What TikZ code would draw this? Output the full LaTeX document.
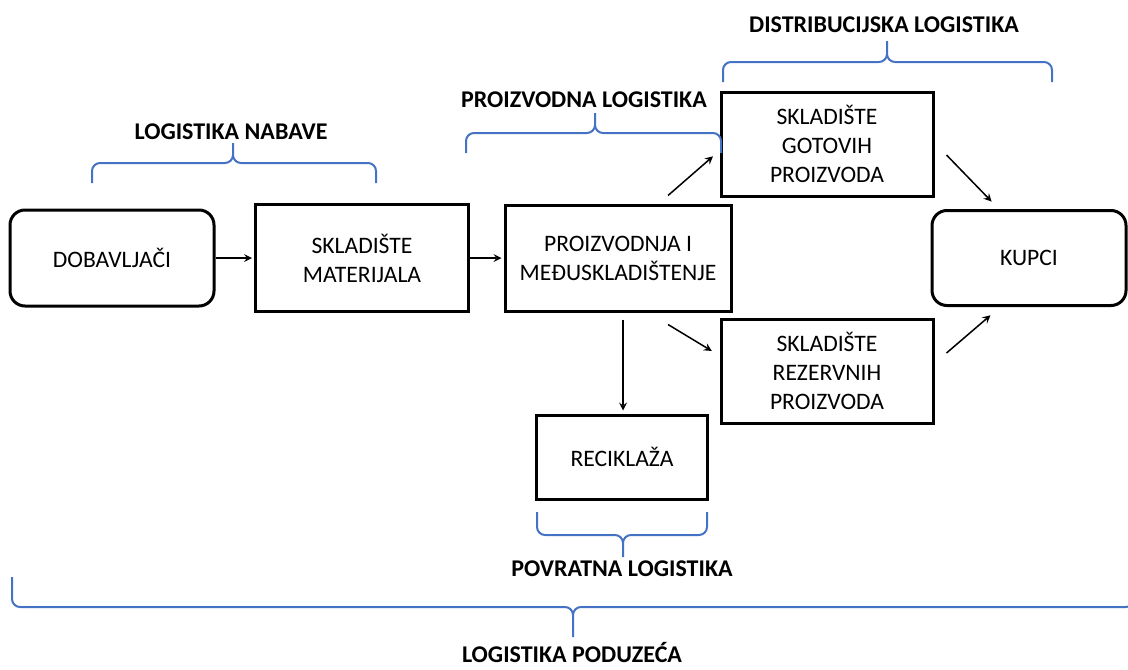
\documentclass[tikz,border=0pt]{standalone}
\usepackage{fontspec}
\setmainfont{Carlito}
\usepackage{xcolor}
\usetikzlibrary{positioning}

\definecolor{braceblue}{RGB}{68,114,196}

\begin{document}
\begin{tikzpicture}[->,>=stealth,shorten >=1pt,x=0.5pt,y=-0.5pt,node distance=125pt,
    main node/.style={draw,line width=1.5pt,align=center,inner sep=0pt,font=\fontsize{11.8}{14.5}\selectfont},
    end node/.style={main node,rounded corners=7.5pt},
    title node/.style={font=\fontsize{12}{14}\selectfont\bfseries},
    brace line/.style={-,draw=braceblue,line width=1pt,rounded corners=4pt}]

    \useasboundingbox (0,0) rectangle (1128,669);

    \node[end node, minimum width=102pt, minimum height=48pt] (1) at (112,258) {DOBAVLJAČI};
    \node[main node, minimum width=106.5pt, minimum height=53.5pt] (2) [right of = 1] {SKLADIŠTE\\MATERIJALA};
    \node[main node, minimum width=113pt, minimum height=53pt] (3) [right of = 2, xshift=3pt] {PROIZVODNJA I\\MEĐUSKLADIŠTENJE};
    \node[main node, minimum width=106pt, minimum height=52pt] (4) [right of = 3, xshift=-20.5pt, yshift=57pt] {SKLADIŠTE\\GOTOVIH\\PROIZVODA};
    \node[main node, minimum width=106pt, minimum height=52pt] (5) [below of = 4, yshift=11.5pt] {SKLADIŠTE\\REZERVNIH\\PROIZVODA};
    \node[end node, minimum width=97pt, minimum height=47.5pt] (6) [right of = 3, xshift=80.5pt] {KUPCI};
    \node[main node, minimum width=85.5pt, minimum height=42pt] (7) [below of = 3, xshift=2pt, yshift=25.5pt] {RECIKLAŽA};

    \node[title node] (8) at (231,132) {LOGISTIKA NABAVE};
    \node[title node] (9) at (584,100) {PROIZVODNA LOGISTIKA};
    \node[title node] (10) at (884,25) {DISTRIBUCIJSKA LOGISTIKA};
    \node[title node] (11) at (622,569) {POVRATNA LOGISTIKA};
    \node[title node] (12) at (572,652) {LOGISTIKA PODUZEĆA};

    \path[line width=0.75pt]
        (1) edge (2)
        (2) edge (3)
    ;
    \draw[line width=0.75pt] ([shift={(5,7)}]3.south) -- ([shift={(1,-1)}]7.north);
    \draw[line width=0.75pt] ([shift={(50,-8)}]3.north) -- ([shift={(-5,11)}]4.west);
    \draw[line width=0.75pt] ([shift={(50,12)}]3.south) -- ([shift={(-6,-19)}]5.west);
    \draw[line width=0.75pt] ([shift={(12,11)}]4.east) -- ([shift={(-36,-6)}]6.north);
    \draw[line width=0.75pt] ([shift={(12,-18)}]5.east) -- ([shift={(-37,7)}]6.south);

    % braces
    \draw[brace line] (92,183) -- (92,163) -- (233,163) -- (233,143) (376,183) -- (376,163) -- (233,163) -- (233,143);
    \draw[brace line] (466,153) -- (466,133) -- (595,133) -- (595,113) (721,153) -- (721,133) -- (595,133) -- (595,113);
    \draw[brace line] (723,82) -- (723,62) -- (887,62) -- (887,41) (1052,82) -- (1052,62) -- (887,62) -- (887,41);
    \draw[brace line] (537,512) -- (537,535) -- (623,535) -- (623,557) (707,512) -- (707,535) -- (623,535) -- (623,557);
    \draw[brace line] (12,577) -- (12,607) -- (573,607) -- (573,637) (1134,577) -- (1134,607) -- (573,607) -- (573,637);
\end{tikzpicture}
\end{document}
